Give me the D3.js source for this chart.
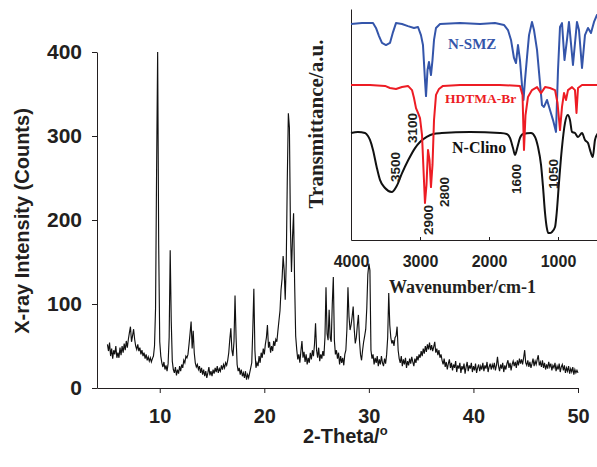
<!DOCTYPE html>
<html>
<head>
<meta charset="utf-8">
<script src="https://cdn.jsdelivr.net/npm/d3@7/dist/d3.min.js"></script>
<style>
  body { margin: 0; background: #fff; }
  svg { display: block; }
</style>
</head>
<body>
<svg id="chart" width="597" height="467"></svg>
<script>
// XRD scan, 5 to 50 deg 2-theta, step 0.1
const xrdStart = 5;
const xrdStep = 0.1;
const xrdCounts = [
  52, 44, 54, 38, 47, 35, 45, 40, 50, 36,
  42, 36, 48, 39, 50, 42, 53, 45, 56, 48,
  58, 66, 73, 55, 62, 70, 58, 50, 46, 52,
  44, 48, 40, 45, 38, 42, 35, 40, 33, 37,
  32, 36, 31, 35, 38, 50, 95, 260, 400, 170,
  55, 38, 30, 25, 31, 22, 27, 20, 29, 60,
  164, 80, 32, 22, 18, 25, 15, 22, 17, 26,
  20, 28, 24, 33, 30, 38, 36, 40, 52, 65,
  79, 47, 68, 42, 30, 25, 28, 22, 26, 18,
  24, 16, 22, 14, 20, 12, 18, 25, 15, 20,
  14, 22, 17, 24, 19, 26, 18, 23, 20, 27,
  22, 28, 24, 30, 27, 33, 42, 58, 71, 45,
  38, 55, 110, 60, 28, 20, 24, 16, 22, 14,
  18, 12, 20, 10, 16, 12, 18, 24, 30, 70,
  118, 45, 24, 30, 26, 38, 30, 42, 36, 47,
  40, 52, 60, 75, 48, 55, 42, 50, 44, 56,
  50, 58, 55, 68, 80, 92, 117, 130, 157, 140,
  105, 150, 250, 327, 310, 190, 138, 180, 208, 125,
  62, 46, 34, 40, 30, 44, 56, 36, 43, 31,
  40, 28, 36, 30, 42, 34, 45, 38, 52, 77,
  45, 36, 48, 32, 40, 35, 44, 38, 60, 120,
  65, 57, 93, 60, 55, 100, 132, 57, 40, 45,
  35, 42, 28, 38, 30, 36, 27, 40, 45, 70,
  120, 85, 69, 75, 85, 97, 70, 53, 60, 75,
  87, 57, 40, 33, 45, 55, 62, 70, 95, 135,
  148, 140, 45, 35, 40, 28, 36, 30, 38, 26,
  34, 28, 38, 30, 26, 35, 29, 40, 60, 113,
  75, 60, 53, 57, 50, 60, 62, 73, 45, 35,
  30, 38, 26, 34, 28, 36, 24, 32, 27, 35,
  29, 37, 31, 26, 35, 30, 38, 33, 40, 36,
  44, 38, 47, 41, 50, 43, 52, 46, 54, 45,
  51, 44, 49, 55, 42, 47, 39, 45, 36, 40,
  33, 28, 35, 25, 31, 22, 29, 34, 24, 30,
  21, 28, 24, 32, 19, 27, 23, 30, 18, 26,
  22, 29, 17, 25, 31, 20, 27, 23, 30, 19,
  26, 21, 29, 18, 24, 28, 20, 26, 22, 30,
  20, 27, 23, 31, 19, 25, 29, 22, 28, 24,
  30, 21, 27, 37, 26, 20, 28, 23, 30, 19,
  27, 22, 29, 33, 24, 30, 21, 28, 32, 26,
  31, 24, 33, 27, 35, 29, 34, 28, 36, 45,
  30, 27, 33, 25, 31, 24, 29, 35, 26, 32,
  28, 34, 39, 27, 31, 25, 33, 24, 30, 22,
  28, 23, 31, 25, 29, 21, 27, 24, 30, 20,
  26, 22, 29, 19, 25, 28, 21, 27, 18, 24,
  20, 26, 17, 23, 19, 25, 16, 22, 18, 21,
  18
];
const xrdXTicks = [10, 20, 30, 40, 50];
const xrdYTicks = [0, 100, 200, 300, 400];

// FTIR inset (wavenumber cm-1, transmittance a.u.)
const smzWave = [4000, 3841, 3681, 3638, 3594, 3551, 3493, 3435, 3391, 3348, 3261, 3174, 3087, 3029, 2986, 2957, 2928, 2913, 2891, 2870, 2841, 2819, 2797, 2768, 2710, 2420, 2130, 1913, 1783, 1725, 1681, 1638, 1609, 1580, 1551, 1522, 1500, 1478, 1449, 1420, 1377, 1348, 1304, 1261, 1232, 1203, 1159, 1116, 1072, 1029, 1000, 971, 942, 906, 870, 841, 783, 725, 696, 652, 609, 565, 522, 478, 435, 406];
const smzT = [93.5, 93.9, 93.9, 91.8, 88.3, 85.3, 84.4, 85.3, 90.0, 93.9, 93.5, 92.6, 91.8, 92.2, 88.7, 84.4, 69.3, 62.3, 73.6, 77.1, 71.4, 77.9, 86.6, 91.8, 93.5, 93.9, 93.5, 93.9, 93.1, 90.9, 86.6, 78.8, 76.6, 84.4, 77.9, 67.1, 60.6, 69.3, 79.2, 88.7, 94.4, 90.9, 82.3, 68.0, 58.4, 57.6, 60.6, 56.3, 51.9, 46.8, 73.6, 92.2, 93.9, 77.9, 86.6, 94.4, 75.8, 94.4, 90.9, 74.5, 88.7, 91.8, 89.6, 94.4, 97.4, 97.8];

const hdtmaWave = [4000, 3725, 3507, 3435, 3348, 3261, 3174, 3116, 3087, 3058, 3029, 3000, 2971, 2949, 2928, 2906, 2884, 2862, 2841, 2819, 2797, 2768, 2725, 2667, 2420, 1841, 1551, 1514, 1493, 1471, 1435, 1377, 1304, 1246, 1188, 1116, 1043, 1007, 971, 942, 913, 884, 855, 797, 754, 732, 710, 652, 406];
const hdtmaT = [67.1, 67.1, 66.7, 65.8, 65.4, 66.2, 66.7, 64.9, 61.5, 57.1, 55.0, 52.8, 45.5, 30.3, 16.0, 23.8, 39.0, 34.6, 22.9, 32.5, 51.9, 62.8, 65.4, 66.7, 67.1, 67.1, 66.7, 62.8, 39.0, 54.1, 61.9, 64.9, 66.2, 63.6, 66.2, 65.8, 64.9, 59.3, 47.6, 57.6, 63.6, 60.6, 64.9, 66.2, 64.9, 55.0, 65.8, 67.1, 67.1];

const clinoWave = [4000, 3899, 3797, 3754, 3725, 3681, 3628, 3580, 3507, 3410, 3338, 3265, 3170, 3072, 3000, 2903, 2807, 2686, 2275, 1841, 1743, 1696, 1652, 1623, 1587, 1551, 1507, 1391, 1333, 1290, 1246, 1217, 1188, 1164, 1141, 1116, 1087, 1043, 1019, 986, 946, 899, 859, 826, 797, 754, 710, 652, 609, 565, 536, 496, 464, 420];
const clinoT = [46.3, 46.8, 46.3, 45.0, 43.3, 39.0, 31.6, 26.0, 22.5, 20.8, 23.4, 28.6, 34.6, 39.8, 42.4, 44.6, 45.9, 46.3, 46.8, 46.3, 45.9, 44.2, 39.8, 36.8, 40.3, 44.2, 45.9, 46.3, 44.6, 40.3, 32.5, 22.9, 11.7, 5.6, 3.0, 3.0, 3.5, 5.6, 11.7, 24.7, 39.0, 50.6, 54.1, 51.9, 46.8, 46.3, 44.6, 46.3, 43.3, 42.0, 39.0, 35.9, 43.3, 46.3];

const irTicks = [4000, 3000, 2000, 1000];
const irBandLabels = ["3500", "3100", "2900", "2800", "1600", "1050"];

const ink = "#231f20";
const sans = "'Liberation Sans', Arial, sans-serif";
const serif = "'Liberation Serif', 'Times New Roman', serif";

const svg = d3.select("#chart");

// ---- main XRD plot
const x = d3.scaleLinear().domain([4, 50]).range([97, 578]);
const y = d3.scaleLinear().domain([0, 400]).range([388, 52]);

const xrd = xrdCounts.map((c, i) => [xrdStart + i * xrdStep, c]);

svg.append("path")
  .datum(xrd)
  .attr("fill", "none")
  .attr("stroke", "#111")
  .attr("stroke-width", 1.15)
  .attr("d", d3.line().x(d => x(d[0])).y(d => y(d[1])));

const xAxis = svg.append("g")
  .attr("transform", "translate(0,388)")
  .call(d3.axisBottom(x).tickValues(xrdXTicks).tickSize(5).tickSizeOuter(0).tickPadding(16));
const yAxis = svg.append("g")
  .attr("transform", "translate(97,0)")
  .call(d3.axisLeft(y).tickValues(xrdYTicks).tickSize(5).tickSizeOuter(0).tickPadding(10));

[xAxis, yAxis].forEach(g => {
  g.selectAll("path, line").attr("stroke", ink);
  g.selectAll("text")
    .attr("fill", ink)
    .style("font-family", sans)
    .style("font-weight", "bold")
    .style("font-size", "20px");
});
yAxis.selectAll("text").style("font-size", "21px");

svg.append("text")
  .attr("transform", "translate(29,221) rotate(-90)")
  .attr("text-anchor", "middle")
  .attr("fill", ink)
  .style("font-family", sans)
  .style("font-weight", "bold")
  .style("font-size", "20px")
  .text("X-ray Intensity (Counts)");

const xt = svg.append("text")
  .attr("x", 303)
  .attr("y", 443)
  .attr("fill", ink)
  .style("font-family", sans)
  .style("font-weight", "bold")
  .style("font-size", "20px");
xt.append("tspan").text("2-Theta/");
xt.append("tspan").attr("dy", -8).style("font-size", "13px").text("o");

// ---- FTIR inset
const ix = d3.scaleLinear().domain([4000, 400]).range([351, 351 + 3600 * 0.069]);
const iy = d3.scaleLinear().domain([0, 100]).range([240, 9]);

const inset = svg.append("g");

inset.append("g")
  .attr("transform", "translate(351,0)")
  .call(d3.axisLeft(iy).tickValues([]).tickSizeOuter(0))
  .select(".domain").attr("stroke", ink);

const ixAxis = inset.append("g")
  .attr("transform", "translate(0,240)")
  .call(d3.axisBottom(ix).tickValues(irTicks).tickSizeInner(-3).tickSizeOuter(0).tickPadding(16).tickFormat(d3.format("d")));
ixAxis.selectAll("path, line").attr("stroke", ink);
ixAxis.selectAll("text")
  .attr("fill", ink)
  .style("font-family", sans)
  .style("font-weight", "bold")
  .style("font-size", "16px");

const irLine = d3.line().x(d => ix(d[0])).y(d => iy(d[1]));

const series = [
  { wave: clinoWave, t: clinoT, color: "#111111", curve: d3.curveMonotoneX },
  { wave: smzWave, t: smzT, color: "#3455aa", curve: d3.curveLinear },
  { wave: hdtmaWave, t: hdtmaT, color: "#ed1c24", curve: d3.curveLinear }
];

series.forEach(s => {
  inset.append("path")
    .datum(s.wave.map((w, i) => [w, s.t[i]]))
    .attr("fill", "none")
    .attr("stroke", s.color)
    .attr("stroke-width", 2)
    .attr("stroke-linejoin", "round")
    .attr("d", irLine.curve(s.curve));
});

const seriesLabels = [
  { text: "N-SMZ", x: 448, y: 49, size: 15, color: "#3455aa" },
  { text: "HDTMA-Br", x: 445, y: 103, size: 13.5, color: "#ed1c24" },
  { text: "N-Clino", x: 452, y: 153, size: 16, color: "#111111" }
];
inset.selectAll(".series-label")
  .data(seriesLabels)
  .join("text")
  .attr("class", "series-label")
  .attr("x", d => d.x)
  .attr("y", d => d.y)
  .attr("fill", d => d.color)
  .style("font-family", serif)
  .style("font-weight", "bold")
  .style("font-size", d => d.size + "px")
  .text(d => d.text);

// band annotations, rotated
const bandPos = [[395, 167], [412, 128], [428, 220], [444.5, 192], [516, 179], [553.5, 174]];
inset.selectAll(".band")
  .data(irBandLabels)
  .join("text")
  .attr("class", "band")
  .attr("transform", (d, i) => `translate(${bandPos[i][0]},${bandPos[i][1]}) rotate(-90)`)
  .attr("text-anchor", "middle")
  .attr("dy", "0.35em")
  .attr("fill", ink)
  .style("font-family", sans)
  .style("font-weight", "bold")
  .style("font-size", "13.5px")
  .text(d => d);

inset.append("text")
  .attr("transform", "translate(323,124) rotate(-90)")
  .attr("text-anchor", "middle")
  .attr("fill", ink)
  .style("font-family", serif)
  .style("font-weight", "bold")
  .style("font-size", "21px")
  .text("Transmittance/a.u.");

inset.append("text")
  .attr("x", 389)
  .attr("y", 293)
  .attr("fill", ink)
  .style("font-family", serif)
  .style("font-weight", "bold")
  .style("font-size", "18px")
  .text("Wavenumber/cm-1");
</script>
</body>
</html>
